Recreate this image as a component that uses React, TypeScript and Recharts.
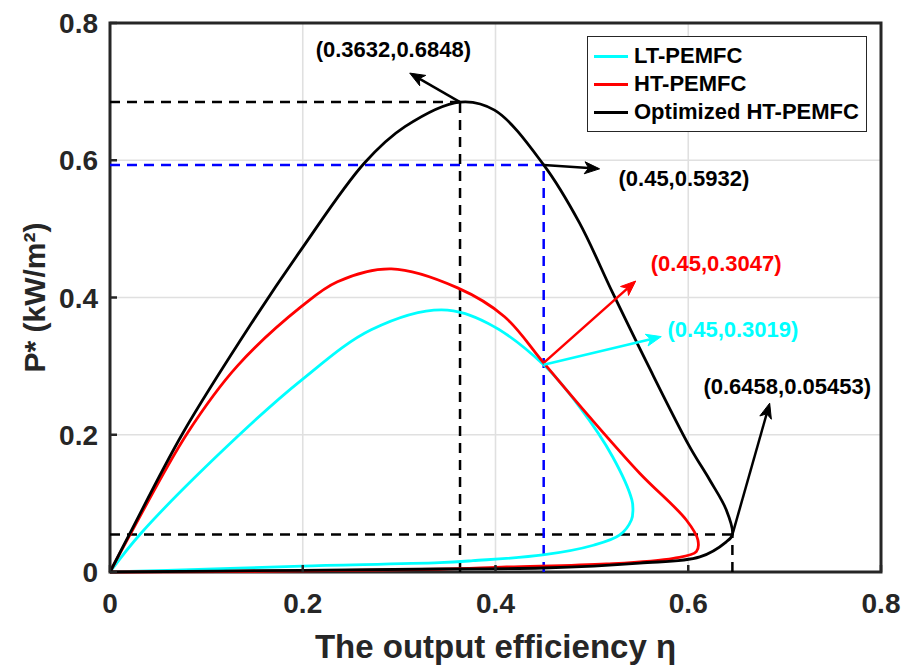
import React from "react";
import {
  CartesianGrid,
  Legend,
  Line,
  LineChart,
  ReferenceArea,
  ReferenceDot,
  ReferenceLine,
  XAxis,
  YAxis,
} from "recharts";

// output efficiency (eta) vs power density P* (kW/m2)
const ltEta = [0, 0.0324, 0.132, 0.199, 0.271, 0.344, 0.392, 0.45, 0.487, 0.5215, 0.5415, 0.5426, 0.541, 0.529, 0.5016, 0.449, 0.3766, 0.342, 0.199, 0.1, 0];
const ltPower = [0, 0.0569, 0.197, 0.28, 0.353, 0.382, 0.3625, 0.3019, 0.241, 0.168, 0.105, 0.09, 0.0758, 0.054, 0.039, 0.0248, 0.0165, 0.0136, 0.0087, 0.004, 0];

const htEta = [0, 0.022, 0.0804, 0.132, 0.1987, 0.236, 0.292, 0.3607, 0.4094, 0.45, 0.4976, 0.5496, 0.598, 0.61, 0.6084, 0.5846, 0.515, 0.4115, 0.342, 0.2, 0];
const htPower = [0, 0.0575, 0.2026, 0.3, 0.387, 0.423, 0.4417, 0.414, 0.372, 0.3047, 0.226, 0.144, 0.0758, 0.0466, 0.0296, 0.02, 0.0117, 0.0073, 0.004, 0.0015, 0];

const optEta = [0, 0.022, 0.0755, 0.1466, 0.198, 0.264, 0.306, 0.3632, 0.399, 0.45, 0.487, 0.5215, 0.557, 0.6014, 0.6223, 0.6395, 0.6458, 0.6395, 0.612, 0.5496, 0.449, 0.342, 0.2, 0];
const optPower = [0, 0.06, 0.2022, 0.362, 0.469, 0.596, 0.649, 0.6848, 0.673, 0.5932, 0.509, 0.407, 0.305, 0.1827, 0.134, 0.0904, 0.05453, 0.044, 0.022, 0.013, 0.0058, 0.0044, 0.0025, 0];

const xTicks = [0, 0.2, 0.4, 0.6, 0.8];
const yTicks = [0, 0.2, 0.4, 0.6, 0.8];

// marked points (dashed guides to the axes)
const markEta = [0.3632, 0.45, 0.6458];
const markPower = [0.6848, 0.5932, 0.05453];
const markColors = ["#000000", "#0000ff", "#000000"];

// arrow annotations
const noteText = ["(0.3632,0.6848)", "(0.45,0.5932)", "(0.45,0.3047)", "(0.45,0.3019)", "(0.6458,0.05453)"];
const noteFrom = [[0.3632, 0.6848], [0.45, 0.5932], [0.45, 0.3047], [0.45, 0.3019], [0.6458, 0.05453]];
const noteTo = [[0.311, 0.727], [0.508, 0.5875], [0.5455, 0.424], [0.572, 0.343], [0.6845, 0.246]];
const noteAt = [[0.294, 0.761], [0.5955, 0.574], [0.629, 0.45], [0.6464, 0.3528], [0.7027, 0.27]];
const noteColors = ["#000000", "#000000", "#ff0000", "#00ffff", "#000000"];

const toPoints = (eta: number[], p: number[]) => eta.map((x, i) => ({ x, y: p[i] }));

const series = [
  { name: "LT-PEMFC", color: "#00ffff", data: toPoints(ltEta, ltPower) },
  { name: "HT-PEMFC", color: "#ff0000", data: toPoints(htEta, htPower) },
  { name: "Optimized HT-PEMFC", color: "#000000", data: toPoints(optEta, optPower) },
];

const font = "'Liberation Sans', Arial, Helvetica, sans-serif";
const axisColor = "#262626";

// centripetal catmull-rom, the curves loop back on themselves so monotone won't do
const catmullRom = (context: any) => {
  let pts: number[][] = [];
  const dist = (a: number[], b: number[]) => Math.hypot(b[0] - a[0], b[1] - a[1]);
  return {
    areaStart() {},
    areaEnd() {},
    lineStart() {
      pts = [];
    },
    point(x: number, y: number) {
      pts.push([+x, +y]);
    },
    lineEnd() {
      const n = pts.length;
      if (!n) return;
      context.moveTo(pts[0][0], pts[0][1]);
      for (let i = 0; i < n - 1; i++) {
        const p0 = pts[i - 1];
        const p1 = pts[i];
        const p2 = pts[i + 1];
        const p3 = pts[i + 2];
        const l12a = Math.sqrt(dist(p1, p2));
        const l12b = dist(p1, p2);
        let c1 = p1;
        let c2 = p2;
        if (p0) {
          const la = Math.sqrt(dist(p0, p1));
          const lb = dist(p0, p1);
          if (la > 1e-9) {
            const a = 2 * lb + 3 * la * l12a + l12b;
            const k = 3 * la * (la + l12a);
            c1 = [(p1[0] * a - p0[0] * l12b + p2[0] * lb) / k, (p1[1] * a - p0[1] * l12b + p2[1] * lb) / k];
          }
        }
        if (p3) {
          const la = Math.sqrt(dist(p2, p3));
          const lb = dist(p2, p3);
          if (la > 1e-9) {
            const b = 2 * lb + 3 * la * l12a + l12b;
            const m = 3 * la * (la + l12a);
            c2 = [(p2[0] * b + p1[0] * lb - p3[0] * l12b) / m, (p2[1] * b + p1[1] * lb - p3[1] * l12b) / m];
          }
        }
        context.bezierCurveTo(c1[0], c1[1], c2[0], c2[1], p2[0], p2[1]);
      }
    },
  };
};

const XTick = ({ x, y, payload }: any) => (
  <g>
    <line x1={x} y1={y} x2={x} y2={y - 7} stroke={axisColor} strokeWidth={2.5} />
    <text x={x} y={y + 41} textAnchor="middle" fill={axisColor} fontSize={28} fontWeight="bold" fontFamily={font}>
      {payload.value}
    </text>
  </g>
);

const YTick = ({ x, y, payload }: any) => (
  <g>
    <line x1={x} y1={y} x2={x + 7} y2={y} stroke={axisColor} strokeWidth={2.5} />
    <text x={x - 12} y={y + 10} textAnchor="end" fill={axisColor} fontSize={28} fontWeight="bold" fontFamily={font}>
      {payload.value}
    </text>
  </g>
);

const TopTick = ({ x, y }: any) => <line x1={x} y1={y} x2={x} y2={y + 7} stroke={axisColor} strokeWidth={2.5} />;
const RightTick = ({ x, y }: any) => <line x1={x} y1={y} x2={x - 7} y2={y} stroke={axisColor} strokeWidth={2.5} />;

const arrowShape = (color: string) => (props: any) => {
  const { x1, y1, x2, y2 } = props;
  const dx = x2 - x1;
  const dy = y2 - y1;
  const len = Math.hypot(dx, dy) || 1;
  const ux = dx / len;
  const uy = dy / len;
  const hl = 15;
  const hw = 6;
  const back = 4;
  const bx = x2 - ux * hl;
  const by = y2 - uy * hl;
  const nx = x2 - ux * (hl - back);
  const ny = y2 - uy * (hl - back);
  const pts = [
    [x2, y2],
    [bx - uy * hw, by + ux * hw],
    [nx, ny],
    [bx + uy * hw, by - ux * hw],
  ]
    .map((p) => p.join(","))
    .join(" ");
  return (
    <g>
      <line x1={x1} y1={y1} x2={nx} y2={ny} stroke={color} strokeWidth={2.5} />
      <polygon points={pts} fill={color} stroke={color} strokeWidth={1} />
    </g>
  );
};

const noteShape = (text: string, color: string) => (props: any) => (
  <text
    x={props.cx}
    y={props.cy}
    textAnchor="middle"
    dominantBaseline="central"
    fill={color}
    fontSize={22}
    fontWeight="bold"
    fontFamily={font}
  >
    {text}
  </text>
);

const renderLegend = () => (
  <div
    style={{
      border: `1.5px solid ${axisColor}`,
      background: "#fff",
      padding: "5px 6px",
      boxSizing: "border-box",
      width: 280,
      fontFamily: font,
      fontWeight: "bold",
      fontSize: 22,
      color: "#000",
    }}
  >
    {series.map((s) => (
      <div key={s.name} style={{ display: "flex", alignItems: "center", height: 28 }}>
        <span style={{ display: "inline-block", width: 34, height: 3, background: s.color, marginRight: 6 }} />
        {s.name}
      </div>
    ))}
  </div>
);

export default function App() {
  return (
    <div style={{ position: "absolute", left: 0, top: 0, background: "#fff" }}>
      <LineChart width={907} height={666} margin={{ top: 23, right: 26, left: 0, bottom: 0 }}>
        <CartesianGrid stroke="#e0e0e0" strokeWidth={1.6} />
        <XAxis
          dataKey="x"
          type="number"
          domain={[0, 0.8]}
          ticks={xTicks}
          height={94}
          axisLine={false}
          tickLine={false}
          tickSize={0}
          tickMargin={0}
          tick={<XTick />}
          interval={0}
          label={({ viewBox }: any) => (
            <text
              x={viewBox.x + viewBox.width / 2}
              y={658}
              textAnchor="middle"
              fill={axisColor}
              fontSize={33}
              fontWeight="bold"
              fontFamily={font}
            >
              The output efficiency η
            </text>
          )}
        />
        <XAxis
          xAxisId="top"
          orientation="top"
          dataKey="x"
          type="number"
          domain={[0, 0.8]}
          ticks={xTicks}
          height={0}
          axisLine={false}
          tickLine={false}
          tickSize={0}
          tickMargin={0}
          tick={<TopTick />}
          interval={0}
        />
        <YAxis
          type="number"
          domain={[0, 0.8]}
          ticks={yTicks}
          width={110}
          axisLine={false}
          tickLine={false}
          tickSize={0}
          tickMargin={0}
          tick={<YTick />}
          interval={0}
          label={({ viewBox }: any) => {
            const cx = 34;
            const cy = viewBox.y + viewBox.height / 2;
            return (
              <text
                x={cx}
                y={cy}
                transform={`rotate(-90, ${cx}, ${cy})`}
                textAnchor="middle"
                dominantBaseline="central"
                fill={axisColor}
                fontSize={30}
                fontWeight="bold"
                fontFamily={font}
              >
                P* (kW/m²)
              </text>
            );
          }}
        />
        <YAxis
          yAxisId="right"
          orientation="right"
          type="number"
          domain={[0, 0.8]}
          ticks={yTicks}
          width={0}
          axisLine={false}
          tickLine={false}
          tickSize={0}
          tickMargin={0}
          tick={<RightTick />}
          interval={0}
        />
        <Legend
          layout="horizontal"
          verticalAlign="middle"
          align="center"
          content={renderLegend}
          wrapperStyle={{ position: "absolute", left: 587, top: 36, width: 280 }}
        />
        {markEta.map((x, i) => (
          <ReferenceLine
            key={`h${i}`}
            segment={[{ x: 0, y: markPower[i] }, { x, y: markPower[i] }]}
            stroke={markColors[i]}
            strokeWidth={2.5}
            strokeDasharray="10 7"
          />
        ))}
        {markEta.map((x, i) => (
          <ReferenceLine
            key={`v${i}`}
            segment={[{ x, y: 0 }, { x, y: markPower[i] }]}
            stroke={markColors[i]}
            strokeWidth={2.5}
            strokeDasharray="10 7"
          />
        ))}
        {series.map((s) => (
          <Line
            key={s.name}
            name={s.name}
            data={s.data}
            dataKey="y"
            type={catmullRom as any}
            stroke={s.color}
            strokeWidth={2.8}
            dot={false}
            activeDot={false}
            isAnimationActive={false}
          />
        ))}
        {noteText.map((t, i) => (
          <ReferenceLine
            key={`a${i}`}
            segment={[
              { x: noteFrom[i][0], y: noteFrom[i][1] },
              { x: noteTo[i][0], y: noteTo[i][1] },
            ]}
            shape={arrowShape(noteColors[i])}
          />
        ))}
        {noteText.map((t, i) => (
          <ReferenceDot key={`t${i}`} x={noteAt[i][0]} y={noteAt[i][1]} r={0} shape={noteShape(t, noteColors[i])} />
        ))}
        <ReferenceArea x1={0} x2={0.8} y1={0} y2={0.8} fill="none" fillOpacity={0} stroke={axisColor} strokeWidth={3} />
      </LineChart>
    </div>
  );
}
